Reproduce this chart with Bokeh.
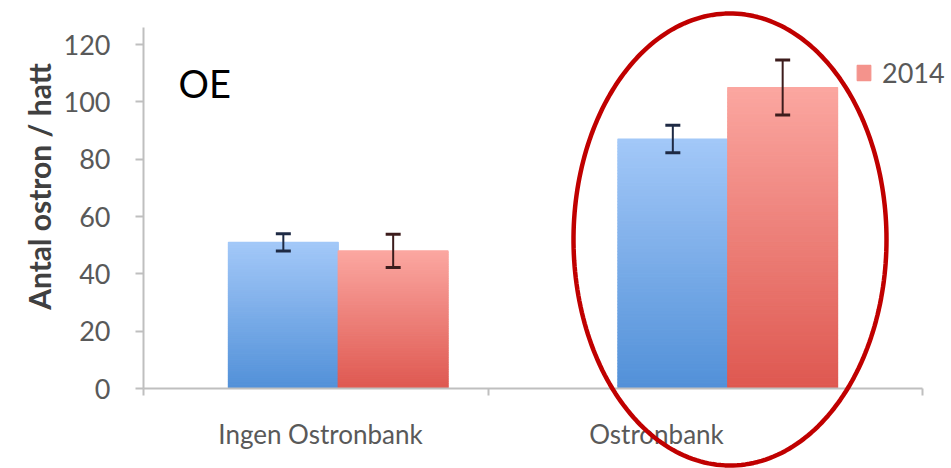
import numpy as np
from bokeh.plotting import figure
from bokeh.models import (ColumnDataSource, Range1d, LinearAxis, FixedTicker, Whisker,
                          TeeHead, Legend, LegendItem, PolyAnnotation, Label)
from bokeh.embed import file_html
from bokeh.resources import INLINE

# ---- data ----
categories = ["Ingen Ostronbank", "Ostronbank"]
series_names = ["2013", "2014"]
values_2013 = [51, 87]
errors_2013 = [3, 4.8]
values_2014 = [48, 105]
errors_2014 = [5.8, 9.6]
y_ticks = [0, 20, 40, 60, 80, 100, 120]
y_max = 126
panel_label = "OE"
y_title = "Antal ostron / hatt"

# ---- layout (pixels) ----
W, H = 951, 468
AX_L, AX_R = 143, 922          # plot area left / right
Y0_PX, PX_PER_UNIT = 388, 344 / 120
LAB_C0, LAB_STEP = 320, 336    # category label centre / spacing

FONT = "Lato"
GRID = "#BFBFBF"
TXT = "#595959"

bar_px = (AX_R - AX_L) / 2
x_range = Range1d(-AX_L / bar_px, 2 + (W - AX_R) / bar_px)
y_range = Range1d(-(H - Y0_PX) / PX_PER_UNIT, Y0_PX / PX_PER_UNIT)
lab_start = 0.5 - LAB_C0 / LAB_STEP
lab_end = 0.5 + (W - LAB_C0) / LAB_STEP
lab_l = 0.5 - (LAB_C0 - AX_L) / LAB_STEP
lab_r = 0.5 + (AX_R - LAB_C0) / LAB_STEP

p = figure(width=W, height=H, output_backend="svg", toolbar_location=None,
           x_range=x_range, y_range=y_range, x_axis_type=None, y_axis_type=None,
           min_border=0)
p.extra_x_ranges = {"labels": Range1d(lab_start, lab_end)}
p.outline_line_color = None
p.background_fill_color = "white"
p.border_fill_color = "white"

# ---- bars with vertical gradient ----
N = 80
half, bw = 0.141, 0.282
idx = np.arange(len(categories)) + 0.5


def lerp(c0, c1, t):
    a = np.array([int(c0[i:i + 2], 16) for i in (1, 3, 5)])
    b = np.array([int(c1[i:i + 2], 16) for i in (1, 3, 5)])
    c = np.round(a + (b - a) * t).astype(int)
    return "#%02x%02x%02x" % tuple(c)


def gradient_source(xs, vals, bottom_col, top_col):
    d = dict(x=[], bottom=[], top=[], color=[])
    for x, v in zip(xs, vals):
        for k in range(N):
            d["x"].append(x)
            d["bottom"].append(v * k / N)
            d["top"].append(v * (k + 1) / N)
            d["color"].append(lerp(bottom_col, top_col, (k + 0.5) / N))
    return ColumnDataSource(d)


g13 = gradient_source(idx - half, values_2013, "#5190D8", "#A3C8F8")
g14 = gradient_source(idx + half, values_2014, "#DE5850", "#FBA6A0")
r13 = p.vbar(x="x", bottom="bottom", top="top", width=bw, source=g13,
             fill_color="color", line_color="color", line_width=1.2)
r14 = p.vbar(x="x", bottom="bottom", top="top", width=bw, source=g14,
             fill_color="color", line_color="color", line_width=1.2)

for xs, vals, errs, col in ((idx - half, values_2013, errors_2013, "#1E2A44"),
                            (idx + half, values_2014, errors_2014, "#3C1C1C")):
    v, e = np.array(vals), np.array(errs)
    src = ColumnDataSource(dict(x=xs, upper=v + e, lower=v - e))
    w = Whisker(base="x", upper="upper", lower="lower", source=src, level="overlay",
                line_color=col, line_width=2,
                upper_head=TeeHead(size=15, line_color=col, line_width=3),
                lower_head=TeeHead(size=15, line_color=col, line_width=3))
    p.add_layout(w)

# ---- y axis ----
ya = LinearAxis(fixed_location=0, bounds=(0, y_max))
ya.ticker = FixedTicker(ticks=y_ticks)
ya.axis_line_color = GRID
ya.axis_line_width = 2
ya.major_tick_line_color = GRID
ya.major_tick_line_width = 2
ya.major_tick_out = 8
ya.major_tick_in = 0
ya.minor_tick_line_color = None
ya.major_label_text_font = FONT
ya.major_label_text_font_size = "27px"
ya.major_label_text_color = TXT
ya.major_label_standoff = 25
p.add_layout(ya, "left")

# y-axis title
p.add_layout(Label(x=38.5, y=H - 186, x_units="screen", y_units="screen", text=y_title,
                   angle=np.pi / 2, text_align="center", text_baseline="middle",
                   text_font=FONT, text_font_style="bold", text_font_size="30px",
                   text_color="#404040"))

# ---- x axis (category labels) ----
xa = LinearAxis(x_range_name="labels", fixed_location=0, bounds=(lab_l, lab_r))
xa.ticker = FixedTicker(ticks=[0.5, 1.5], minor_ticks=[lab_l, 1.0, lab_r])
xa.major_label_overrides = {0.5: categories[0], 1.5: categories[1]}
xa.axis_line_color = GRID
xa.axis_line_width = 2
xa.major_tick_line_color = None
xa.major_tick_out = 0
xa.minor_tick_line_color = GRID
xa.minor_tick_line_width = 2
xa.minor_tick_out = 7
xa.minor_tick_in = 0
xa.major_label_text_font = FONT
xa.major_label_text_font_size = "26px"
xa.major_label_text_color = TXT
xa.major_label_standoff = 22
p.add_layout(xa, "below")

# ---- legend ----
legend = Legend(items=[LegendItem(label=series_names[1], renderers=[r14], index=N - 20)],
                location=(855, H - 65 - 24), padding=0, margin=0, border_line_color=None,
                background_fill_alpha=0, glyph_width=17, glyph_height=19,
                label_standoff=10, label_text_font=FONT, label_text_font_size="27px",
                label_text_color=TXT, label_height=24)
p.add_layout(legend)

# ---- panel label ----
p.add_layout(Label(x=178, y=H - 82, x_units="screen", y_units="screen", text=panel_label,
                   text_baseline="alphabetic",
                   text_font=FONT, text_font_size="38px", text_color="black"))

# ---- highlight ellipse ----
t = np.linspace(0, 2 * np.pi, 240)
ecx, ecy = (729.5 - AX_L) / bar_px, (Y0_PX - 239) / PX_PER_UNIT
erx, ery = 156.5 / bar_px, 226 / PX_PER_UNIT
ell = PolyAnnotation(xs=list(ecx + erx * np.cos(t)), ys=list(ecy + ery * np.sin(t)),
                     fill_alpha=0, line_color="#C00000", line_alpha=1, line_width=4.5,
                     level="overlay")
p.add_layout(ell)

open("out.html", "w").write(file_html(p, INLINE))
